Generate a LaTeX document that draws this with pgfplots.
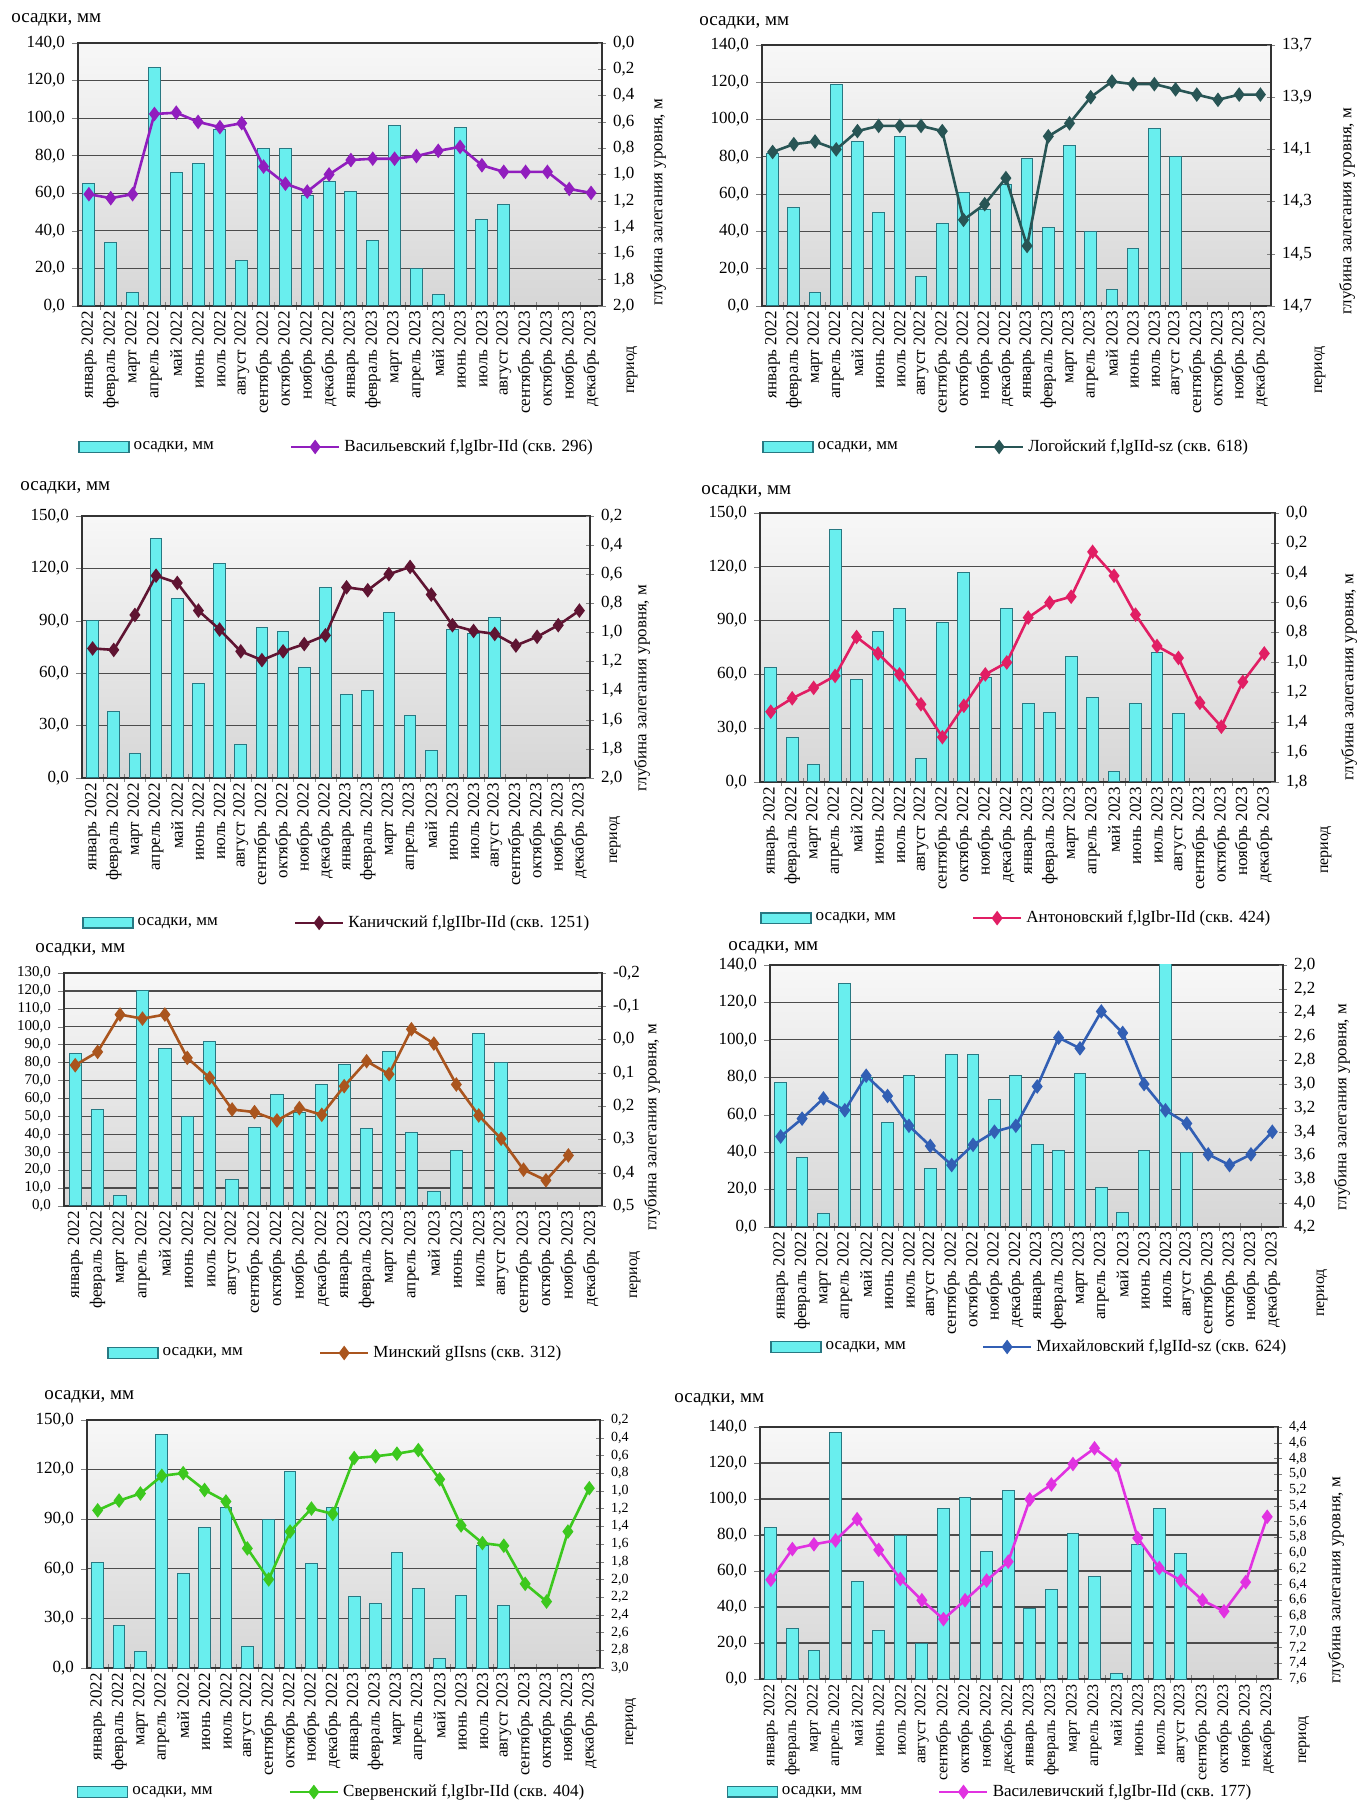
\documentclass[border=0pt]{standalone}
\usepackage{fontspec}
\setmainfont{Liberation Serif}
\usepackage{pgfplots}
\pgfplotsset{compat=1.18}
\definecolor{barfill}{RGB}{105,238,238}
\definecolor{baredge}{RGB}{40,120,130}
\definecolor{c1}{RGB}{145,30,190}
\definecolor{c2}{RGB}{40,85,85}
\definecolor{c3}{RGB}{95,20,50}
\definecolor{c4}{RGB}{225,30,100}
\definecolor{c5}{RGB}{170,85,30}
\definecolor{c6}{RGB}{50,95,180}
\definecolor{c7}{RGB}{60,200,30}
\definecolor{c8}{RGB}{225,50,225}
\pgfplotsset{
  monthlabels/.style={xticklabels={январь 2022,февраль 2022,март 2022,апрель 2022,май 2022,июнь 2022,июль 2022,август 2022,сентябрь 2022,октябрь 2022,ноябрь 2022,декабрь 2022,январь 2023,февраль 2023,март 2023,апрель 2023,май 2023,июнь 2023,июль 2023,август 2023,сентябрь 2023,октябрь 2023,ноябрь 2023,декабрь 2023}},
  common/.style={scale only axis, xmin=-0.5, xmax=23.5, enlargelimits=false,
    axis line style={black!80, line width=0.7pt},
    yticklabel style={font=\fontsize{8.5}{9}\selectfont, /pgf/number format/fixed, /pgf/number format/fixed zerofill, /pgf/number format/precision=1, /pgf/number format/use comma, /pgf/number format/assume math mode=true}},
  barax/.style={common, ybar, bar width=0.55, ymin=0, clip mode=individual,
    xtick={0,...,23}, monthlabels, major x tick style={draw=none}, minor x tick num=1, xtick align=center, minor tick length=4pt,
    xtick pos=left, ytick pos=left, ytick align=outside, major tick length=3pt,
    ymajorgrids, grid style={black!70, line width=0.6pt},
    xticklabel style={rotate=90, anchor=east, font=\fontsize{8.5}{9}\selectfont, inner sep=1pt},
    axis background/.style={shade, top color=black!3, middle color=black!13, bottom color=black!16}},
  lineax/.style={common, axis x line=none, axis y line*=right, y dir=reverse, ytick align=center, major tick length=4pt,
    legend columns=2, legend cell align=left,
    legend style={draw=none, fill=none, anchor=west, inner xsep=0pt, font=\fontsize{8.5}{10}\selectfont, /tikz/every even column/.append style={column sep=36pt}}},
  bars/.style={fill=barfill, draw=baredge, line width=0.5pt},
  ser/.style={color=#1, mark=diamond*, mark size=2.6pt, line width=1.3pt, mark options={fill=#1, draw=#1},
    legend image code/.code={\draw[mark repeat=2, mark phase=2, ##1] plot coordinates {(0pt,0pt) (12pt,0pt) (24pt,0pt)};}},
  barleg/.style={legend image code/.code={\draw[fill=barfill, draw=baredge, line width=0.6pt] (0pt,-2.6pt) rectangle (25pt,2.6pt);}},
}
\newcommand{\ttl}[2]{\node[anchor=west, font=\fontsize{9.5}{11}\selectfont, inner sep=0pt] at (#1,#2) {осадки, мм};}
\newcommand{\rlab}[2]{\node[rotate=90, font=\fontsize{8.5}{10}\selectfont, inner sep=0pt] at (#1,#2) {глубина залегания уровня, м};}
\newcommand{\per}[2]{\node[rotate=90, font=\fontsize{8}{9}\selectfont, inner sep=0pt] at (#1,#2) {период};}
\begin{document}
\begin{tikzpicture}
\path[use as bounding box] (0pt,0pt) rectangle (684pt,902.5pt);
% ---------- Panel 1
\begin{axis}[barax, at={(39pt,749.5pt)}, width=262pt, height=131.5pt, ymax=140, ytick={0,20,...,140}]
\addplot[bars] coordinates {(0,65) (1,34) (2,7) (3,127) (4,71) (5,76) (6,94) (7,24) (8,84) (9,84) (10,59) (11,66) (12,61) (13,35) (14,96) (15,20) (16,6) (17,95) (18,46) (19,54)};
\end{axis}
\begin{axis}[lineax, at={(39pt,749.5pt)}, width=262pt, height=131.5pt, ymin=0, ymax=2, ytick={0,0.2,0.4,0.6,0.8,1.0,1.2,1.4,1.6,1.8,2.0}, legend style={at={(0,-0.536)}}]
\addlegendimage{barleg}\addlegendentry{осадки, мм}
\addplot[ser=c1] coordinates {(0,1.15) (1,1.18) (2,1.15) (3,0.54) (4,0.53) (5,0.60) (6,0.64) (7,0.61) (8,0.94) (9,1.07) (10,1.13) (11,1.00) (12,0.89) (13,0.88) (14,0.88) (15,0.86) (16,0.82) (17,0.79) (18,0.93) (19,0.98) (20,0.98) (21,0.98) (22,1.11) (23,1.14)};
\addlegendentry{Васильевский f,lgIbr-IId (скв. 296)}
\end{axis}
% ---------- Panel 2
\begin{axis}[barax, at={(381pt,749.5pt)}, width=254.5pt, height=130.5pt, ymax=140, ytick={0,20,...,140}]
\addplot[bars] coordinates {(0,82) (1,53) (2,7) (3,119) (4,88) (5,50) (6,91) (7,16) (8,44) (9,61) (10,52) (11,65) (12,79) (13,42) (14,86) (15,40) (16,9) (17,31) (18,95) (19,80)};
\end{axis}
\begin{axis}[lineax, at={(381pt,749.5pt)}, width=254.5pt, height=130.5pt, ymin=13.7, ymax=14.7, ytick={13.7,13.9,14.1,14.3,14.5,14.7}, legend style={at={(0,-0.54)}}]
\addlegendimage{barleg}\addlegendentry{осадки, мм}
\addplot[ser=c2] coordinates {(0,14.11) (1,14.08) (2,14.07) (3,14.10) (4,14.03) (5,14.01) (6,14.01) (7,14.01) (8,14.03) (9,14.37) (10,14.31) (11,14.21) (12,14.47) (13,14.05) (14,14.00) (15,13.90) (16,13.84) (17,13.85) (18,13.85) (19,13.87) (20,13.89) (21,13.91) (22,13.89) (23,13.89)};
\addlegendentry{Логойский f,lgIId-sz (скв. 618)}
\end{axis}
% ---------- Panel 3
\begin{axis}[barax, at={(41pt,513.5pt)}, width=254pt, height=131pt, ymax=150, ytick={0,30,...,150}]
\addplot[bars] coordinates {(0,90) (1,38) (2,14) (3,137) (4,103) (5,54) (6,123) (7,19) (8,86) (9,84) (10,63) (11,109) (12,48) (13,50) (14,95) (15,36) (16,16) (17,85) (18,83) (19,92)};
\end{axis}
\begin{axis}[lineax, at={(41pt,513.5pt)}, width=254pt, height=131pt, ymin=0.2, ymax=2, ytick={0.2,0.4,0.6,0.8,1.0,1.2,1.4,1.6,1.8,2.0}, legend style={at={(0,-0.553)}}]
\addlegendimage{barleg}\addlegendentry{осадки, мм}
\addplot[ser=c3] coordinates {(0,1.11) (1,1.12) (2,0.88) (3,0.61) (4,0.66) (5,0.85) (6,0.98) (7,1.13) (8,1.19) (9,1.13) (10,1.08) (11,1.02) (12,0.69) (13,0.71) (14,0.60) (15,0.55) (16,0.74) (17,0.95) (18,0.99) (19,1.01) (20,1.09) (21,1.03) (22,0.95) (23,0.85)};
\addlegendentry{Каничский f,lgIIbr-IId (скв. 1251)}
\end{axis}
% ---------- Panel 4
\begin{axis}[barax, at={(380pt,511.5pt)}, width=257.5pt, height=134.5pt, ymax=150, ytick={0,30,...,150}]
\addplot[bars] coordinates {(0,64) (1,25) (2,10) (3,141) (4,57) (5,84) (6,97) (7,13) (8,89) (9,117) (10,58) (11,97) (12,44) (13,39) (14,70) (15,47) (16,6) (17,44) (18,72) (19,38)};
\end{axis}
\begin{axis}[lineax, at={(380pt,511.5pt)}, width=257.5pt, height=134.5pt, ymin=0, ymax=1.8, ytick={0,0.2,0.4,0.6,0.8,1.0,1.2,1.4,1.6,1.8}, legend style={at={(0,-0.506)}}]
\addlegendimage{barleg}\addlegendentry{осадки, мм}
\addplot[ser=c4] coordinates {(0,1.33) (1,1.24) (2,1.17) (3,1.09) (4,0.83) (5,0.94) (6,1.08) (7,1.28) (8,1.50) (9,1.29) (10,1.08) (11,1.00) (12,0.70) (13,0.60) (14,0.56) (15,0.26) (16,0.42) (17,0.68) (18,0.89) (19,0.97) (20,1.27) (21,1.43) (22,1.13) (23,0.94)};
\addlegendentry{Антоновский f,lgIbr-IId (скв. 424)}
\end{axis}
% ---------- Panel 5
\begin{axis}[barax, at={(32pt,299.5pt)}, width=269pt, height=116.5pt, ymax=130, ytick={0,10,...,130}, yticklabel style={font=\fontsize{7.5}{8}\selectfont}]
\addplot[bars] coordinates {(0,85) (1,54) (2,6) (3,120) (4,88) (5,50) (6,92) (7,15) (8,44) (9,62) (10,52) (11,68) (12,79) (13,43) (14,86) (15,41) (16,8) (17,31) (18,96) (19,80)};
\end{axis}
\begin{axis}[lineax, at={(32pt,299.5pt)}, width=269pt, height=116.5pt, ymin=-0.2, ymax=0.5, ytick={-0.2,-0.1,0,0.1,0.2,0.3,0.4,0.5}, legend style={at={(0.08,-0.631)}}]
\addlegendimage{barleg}\addlegendentry{осадки, мм}
\addplot[ser=c5] coordinates {(0,0.077) (1,0.037) (2,-0.075) (3,-0.063) (4,-0.075) (5,0.055) (6,0.115) (7,0.21) (8,0.218) (9,0.243) (10,0.206) (11,0.226) (12,0.14) (13,0.065) (14,0.104) (15,-0.031) (16,0.012) (17,0.135) (18,0.228) (19,0.298) (20,0.391) (21,0.423) (22,0.348)};
\addlegendentry{Минский gIIsns (скв. 312)}
\end{axis}
% ---------- Panel 6
\begin{axis}[barax, at={(385pt,289pt)}, width=256.5pt, height=131pt, ymax=140, ytick={0,20,...,140}]
\addplot[bars] coordinates {(0,77) (1,37) (2,7) (3,130) (4,80) (5,56) (6,81) (7,31) (8,92) (9,92) (10,68) (11,81) (12,44) (13,41) (14,82) (15,21) (16,8) (17,41) (18,155) (19,40)};
\end{axis}
\begin{axis}[lineax, at={(385pt,289pt)}, width=256.5pt, height=131pt, ymin=2, ymax=4.2, ytick={2.0,2.2,2.4,2.6,2.8,3.0,3.2,3.4,3.6,3.8,4.0,4.2}, legend style={at={(0,-0.458)}}]
\addlegendimage{barleg}\addlegendentry{осадки, мм}
\addplot[ser=c6] coordinates {(0,3.44) (1,3.29) (2,3.12) (3,3.22) (4,2.93) (5,3.10) (6,3.35) (7,3.52) (8,3.68) (9,3.51) (10,3.40) (11,3.35) (12,3.02) (13,2.61) (14,2.70) (15,2.39) (16,2.57) (17,3.00) (18,3.22) (19,3.33) (20,3.59) (21,3.68) (22,3.59) (23,3.40)};
\addlegendentry{Михайловский f,lgIId-sz (скв. 624)}
\end{axis}
% ---------- Panel 7
\begin{axis}[barax, at={(43.5pt,68.5pt)}, width=256.5pt, height=124pt, ymax=150, ytick={0,30,...,150}]
\addplot[bars] coordinates {(0,64) (1,26) (2,10) (3,141) (4,57) (5,85) (6,97) (7,13) (8,90) (9,119) (10,63) (11,97) (12,43) (13,39) (14,70) (15,48) (16,6) (17,44) (18,74) (19,38)};
\end{axis}
\begin{axis}[lineax, at={(43.5pt,68.5pt)}, width=256.5pt, height=124pt, ymin=0.2, ymax=3, ytick={0.2,0.4,0.6,0.8,1.0,1.2,1.4,1.6,1.8,2.0,2.2,2.4,2.6,2.8,3.0}, yticklabel style={font=\fontsize{7}{8}\selectfont}, legend style={at={(-0.02,-0.5)}}]
\addlegendimage{barleg}\addlegendentry{осадки, мм}
\addplot[ser=c7] coordinates {(0,1.22) (1,1.11) (2,1.03) (3,0.83) (4,0.80) (5,0.99) (6,1.12) (7,1.65) (8,2.00) (9,1.46) (10,1.20) (11,1.26) (12,0.63) (13,0.61) (14,0.58) (15,0.54) (16,0.87) (17,1.39) (18,1.59) (19,1.62) (20,2.05) (21,2.25) (22,1.46) (23,0.97)};
\addlegendentry{Свервенский f,lgIbr-IId (скв. 404)}
\end{axis}
% ---------- Panel 8
\begin{axis}[barax, at={(380pt,63pt)}, width=259pt, height=126pt, ymax=140, ytick={0,20,...,140}, xticklabel style={font=\fontsize{8}{9}\selectfont}]
\addplot[bars] coordinates {(0,84) (1,28) (2,16) (3,137) (4,54) (5,27) (6,80) (7,20) (8,95) (9,101) (10,71) (11,105) (12,39) (13,50) (14,81) (15,57) (16,3) (17,75) (18,95) (19,70)};
\end{axis}
\begin{axis}[lineax, at={(380pt,63pt)}, width=259pt, height=126pt, ymin=4.4, ymax=7.6, ytick={4.4,4.6,4.8,5.0,5.2,5.4,5.6,5.8,6.0,6.2,6.4,6.6,6.8,7.0,7.2,7.4,7.6}, yticklabel style={font=\fontsize{7}{7}\selectfont}, legend style={at={(-0.065,-0.448)}}]
\addlegendimage{barleg}\addlegendentry{осадки, мм}
\addplot[ser=c8] coordinates {(0,6.34) (1,5.95) (2,5.89) (3,5.84) (4,5.57) (5,5.96) (6,6.33) (7,6.60) (8,6.84) (9,6.60) (10,6.35) (11,6.11) (12,5.32) (13,5.13) (14,4.87) (15,4.67) (16,4.88) (17,5.81) (18,6.19) (19,6.35) (20,6.60) (21,6.74) (22,6.37) (23,5.54)};
\addlegendentry{Василевичский f,lgIbr-IId (скв. 177)}
\end{axis}
% ---------- texts
\ttl{5.5pt}{892.5pt}\ttl{349.5pt}{891pt}\ttl{10pt}{658.5pt}\ttl{350.5pt}{656.5pt}
\ttl{17.5pt}{427.5pt}\ttl{364pt}{428.5pt}\ttl{22pt}{204pt}\ttl{337pt}{202.5pt}
\rlab{329pt}{801.5pt}\rlab{673.5pt}{797pt}\rlab{321pt}{558.5pt}\rlab{674.5pt}{564pt}
\rlab{326pt}{339pt}\rlab{671pt}{349pt}\rlab{668pt}{112.5pt}
\per{316pt}{717.5pt}\per{660pt}{717.5pt}\per{307.5pt}{482.5pt}\per{663pt}{477.5pt}
\per{317.5pt}{265pt}\per{661pt}{256pt}\per{315.5pt}{41.5pt}\per{652pt}{32.5pt}
\end{tikzpicture}
\end{document}
